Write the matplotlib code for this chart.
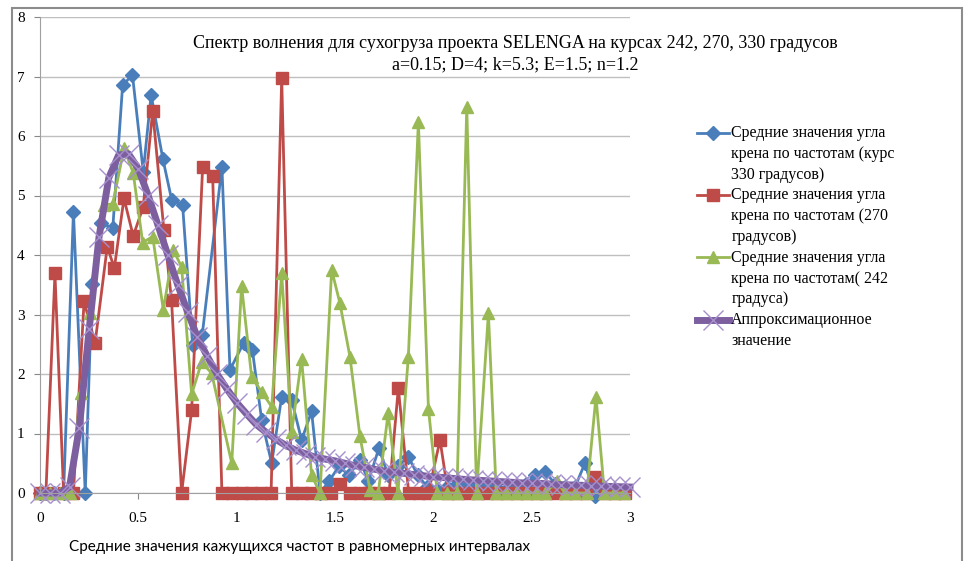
import numpy as np
import matplotlib
matplotlib.use('Agg')
import matplotlib.pyplot as plt
from matplotlib.patches import Rectangle
from matplotlib.legend_handler import HandlerLine2D
from matplotlib.transforms import Affine2D

######## DATA ########

# course 330 degrees
x330 = [0.0, 0.03, 0.07, 0.12, 0.17, 0.23, 0.265, 0.31, 0.37, 0.42, 0.47, 0.525,
        0.565, 0.625, 0.67, 0.725, 0.776, 0.825, 0.925, 0.966, 1.035, 1.08, 1.127,
        1.178, 1.229, 1.28, 1.33, 1.381, 1.424, 1.47, 1.52, 1.57, 1.627, 1.67,
        1.723, 1.77, 1.82, 1.873, 1.92, 1.97, 2.02, 2.07, 2.12, 2.17, 2.22, 2.27,
        2.32, 2.37, 2.42, 2.47, 2.517, 2.567, 2.62, 2.67, 2.72, 2.771, 2.82, 2.87,
        2.92, 2.97]
y330 = [0, 0, 0, 0, 4.73, 0.0, 3.52, 4.54, 4.45, 6.85, 7.03, 5.4,
        6.69, 5.61, 4.92, 4.84, 2.49, 2.66, 5.48, 2.07, 2.52, 2.40, 1.23,
        0.5, 1.62, 1.56, 0.89, 1.37, 0.0, 0.2, 0.45, 0.3, 0.55, 0.2,
        0.75, 0.3, 0.45, 0.61, 0.3, 0.1, 0.05, 0.1, 0.15, 0.1, 0.15, 0.1,
        0.1, 0.05, 0.1, 0.15, 0.30, 0.36, 0.15, 0.1, 0.1, 0.5, -0.05, 0.05,
        0.05, 0.05]

# course 270 degrees
x270 = [0.0, 0.03, 0.076, 0.12, 0.17, 0.224, 0.28, 0.342, 0.378, 0.427, 0.474,
        0.525, 0.573, 0.63, 0.669, 0.72, 0.771, 0.827, 0.878, 0.925, 0.975,
        1.025, 1.075, 1.125, 1.175, 1.229, 1.28, 1.33, 1.38, 1.43, 1.48, 1.525,
        1.575, 1.625, 1.675, 1.725, 1.775, 1.822, 1.875, 1.925, 1.975, 2.034,
        2.075, 2.125, 2.175, 2.225, 2.275, 2.325, 2.375, 2.425, 2.475, 2.525,
        2.575, 2.625, 2.675, 2.725, 2.775, 2.82, 2.875, 2.925, 2.975]
y270 = [0, 0, 3.69, 0, 0, 3.22, 2.52, 4.14, 3.78, 4.95, 4.32,
        4.81, 6.42, 4.42, 3.24, 0, 1.39, 5.48, 5.32, 0, 0,
        0, 0, 0, 0, 6.97, 0, 0, 0, 0, 0, 0.15,
        0, 0, 0, 0, 0, 1.76, 0, 0, 0, 0.89,
        0, 0, 0, 0, 0, 0, 0, 0, 0, 0,
        0, 0, 0, 0, 0, 0.27, 0, 0, 0]

# course 242 degrees
x242 = [0.0, 0.05, 0.1, 0.15, 0.207, 0.254, 0.325, 0.37, 0.427, 0.474, 0.522,
        0.573, 0.627, 0.678, 0.72, 0.771, 0.822, 0.873, 0.975, 1.025, 1.076,
        1.127, 1.178, 1.229, 1.28, 1.33, 1.381, 1.424, 1.483, 1.525, 1.576,
        1.627, 1.678, 1.72, 1.77, 1.82, 1.873, 1.924, 1.975, 2.02, 2.07, 2.12,
        2.17, 2.22, 2.28, 2.32, 2.37, 2.42, 2.47, 2.52, 2.57, 2.627, 2.67, 2.72,
        2.78, 2.827, 2.87, 2.92, 2.97]
y242 = [0, 0, 0, 0, 1.68, 3.02, 4.84, 4.86, 5.79, 5.38, 4.21,
        4.31, 3.08, 4.08, 3.80, 1.66, 2.2, 2.01, 0.5, 3.48, 1.95,
        1.70, 1.45, 3.69, 1.03, 2.26, 0.30, 0, 3.75, 3.19, 2.29,
        0.95, 0.05, 0, 1.34, 0, 2.29, 6.24, 1.42, 0, 0, 0,
        6.49, 0, 3.02, 0, 0, 0, 0, 0, 0, 0.2, 0, 0,
        0, 1.62, 0, 0, 0]

# approximation curve
xapp = [0.0, 0.05, 0.1, 0.15, 0.2, 0.25, 0.3, 0.35, 0.4, 0.45, 0.5, 0.55, 0.6,
        0.65, 0.7, 0.75, 0.8, 0.85, 0.9, 0.95, 1.0, 1.05, 1.1, 1.15, 1.2, 1.25,
        1.3, 1.35, 1.4, 1.45, 1.5, 1.55, 1.6, 1.65, 1.7, 1.75, 1.8, 1.85, 1.9,
        1.95, 2.0, 2.05, 2.1, 2.15, 2.2, 2.25, 2.3, 2.35, 2.4, 2.45, 2.5, 2.55,
        2.6, 2.65, 2.7, 2.75, 2.8, 2.85, 2.9, 2.95, 3.0]
yapp = [0.0, 0.0, 0.0, 0.1, 1.1, 2.75, 4.3, 5.3, 5.68, 5.7, 5.45, 5.0, 4.5,
        4.0, 3.5, 3.05, 2.62, 2.3, 2.0, 1.75, 1.52, 1.33, 1.15, 1.02, 0.9, 0.8,
        0.72, 0.66, 0.6, 0.57, 0.54, 0.5, 0.46, 0.43, 0.4, 0.37, 0.35, 0.33, 0.31,
        0.29, 0.27, 0.26, 0.245, 0.23, 0.22, 0.21, 0.2, 0.19, 0.18, 0.17, 0.165, 0.16,
        0.15, 0.14, 0.135, 0.13, 0.12, 0.115, 0.11, 0.105, 0.1]

labels = ['Средние значения угла\nкрена по частотам (курс\n330 градусов)',
          'Средние значения угла\nкрена по частотам (270\nградусов)',
          'Средние значения угла\nкрена по частотам( 242\nградуса)',
          'Аппроксимационное\nзначение']

title = ('Спектр волнения для сухогруза проекта SELENGA на курсах 242, 270, 330 градусов\n'
         'a=0.15; D=4; k=5.3; E=1.5; n=1.2')
xlabel = 'Средние значения кажущихся частот в равномерных интервалах'


# legend handle sits next to the first line of a multi-line label
class TopHandler(HandlerLine2D):
    def __init__(self, dy, **kw):
        HandlerLine2D.__init__(self, **kw)
        self.dy = dy

    def create_artists(self, legend, orig_handle, xdescent, ydescent,
                       width, height, fontsize, trans):
        arts = HandlerLine2D.create_artists(self, legend, orig_handle, xdescent,
                                            ydescent, width, height, fontsize, trans)
        for a in arts:
            a.set_transform(Affine2D().translate(0, self.dy) + a.get_transform())
        return arts


######## PLOT ########

serif = ['Liberation Serif', 'DejaVu Serif']

fig = plt.figure(figsize=(9.73, 5.61), dpi=100)
ax = fig.add_axes([40/973, 1-493/561, 590/973, 476/561])

l1, = ax.plot(x330, y330, color='#4a7ebb', lw=2, marker='D', ms=7, label=labels[0])
l2, = ax.plot(x270, y270, color='#be4b48', lw=2, marker='s', ms=8.5, label=labels[1])
l3, = ax.plot(x242, y242, color='#98b954', lw=2, marker='^', ms=8.5, label=labels[2])
l4, = ax.plot(xapp, yapp, color='#7d5fa0', lw=5, marker='x', ms=15, mew=1,
              mec='#a58fcc', label=labels[3])

ax.set_xlim(0, 3)
ax.set_ylim(0, 8)
ax.set_xticks([0, 0.5, 1, 1.5, 2, 2.5, 3])
ax.set_xticklabels(['0', '0.5', '1', '1.5', '2', '2.5', '3'])
ax.set_yticks(range(9))
for lab in ax.get_xticklabels() + ax.get_yticklabels():
    lab.set_family(serif)
    lab.set_fontsize(11)
ax.tick_params(colors='#888888', labelcolor='black', length=4)
ax.tick_params(axis='x', pad=10)
ax.tick_params(axis='y', pad=7)
ax.yaxis.grid(True, color='#bfbfbf', lw=1)
ax.set_axisbelow(True)
for s in ['top', 'right']:
    ax.spines[s].set_visible(False)
for s in ['left', 'bottom']:
    ax.spines[s].set_color('#a0a0a0')
ax.patch.set_alpha(0)
for ln in ax.get_lines():
    ln.set_clip_on(False)

fig.text(515/973, 1-54/561, title, ha='center', va='center', family=serif,
         fontsize=13, linespacing=1.35)
fig.text(300/973, 1-547/561, xlabel, ha='center', va='center',
         family=['Lato', 'DejaVu Sans'], fontsize=11)

fig.legend(handles=[l1, l2, l3, l4], loc='upper left',
           bbox_to_anchor=(697/973, 1-125/561), frameon=False, borderpad=0,
           borderaxespad=0, prop={'family': serif, 'size': 11.5},
           handlelength=2.0, handletextpad=0.15, labelspacing=0.3,
           handler_map={l1: TopHandler(15.5), l2: TopHandler(15.5),
                        l3: TopHandler(15.5), l4: TopHandler(7.8)})
for t in fig.legends[0].get_texts():
    t.set_linespacing(1.4)

fig.patches.append(Rectangle((12/973, -0.05), 950/973, 1.05-8/561,
                             transform=fig.transFigure, fill=False,
                             edgecolor='#8c8c8c', lw=1.5))

plt.savefig('out.png', dpi=100)
